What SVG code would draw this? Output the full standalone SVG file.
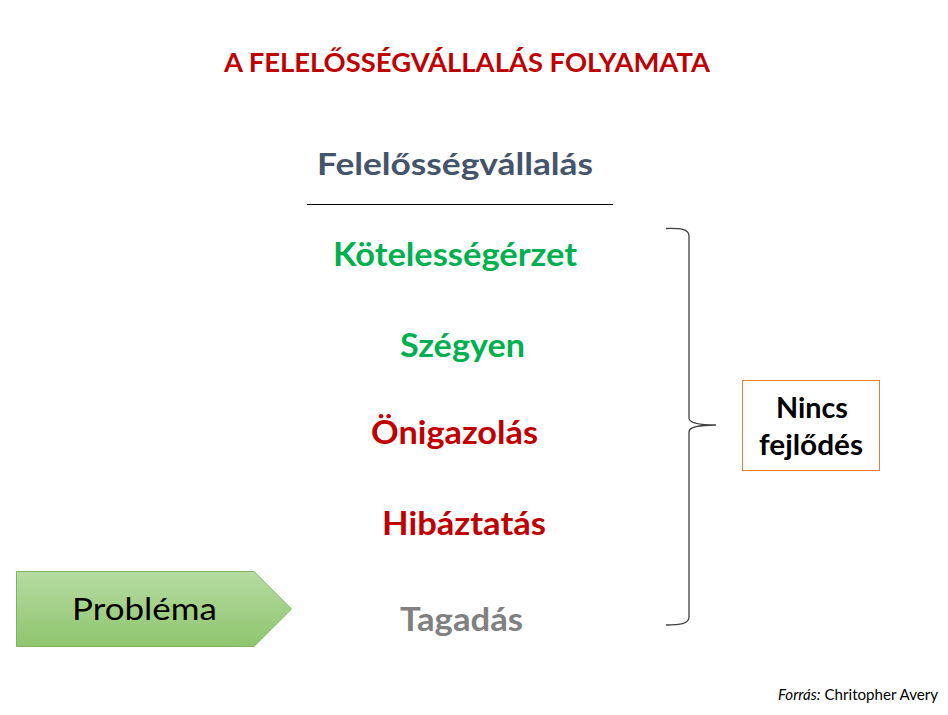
<svg xmlns="http://www.w3.org/2000/svg" width="948" height="715" viewBox="0 0 948 715">
<defs>
<linearGradient id="gGreen" x1="0" y1="0" x2="0" y2="1">
<stop offset="0" stop-color="#b6dba2"/>
<stop offset="1" stop-color="#8ec56d"/>
</linearGradient>
<style>
.b{font-family:Lato,"Open Sans","Liberation Sans",sans-serif;font-weight:bold;text-anchor:middle}
.r{font-family:Lato,"Open Sans","Liberation Sans",sans-serif;text-anchor:middle}
.green{fill:#00b050}
.red{fill:#c00000}
</style>
</defs>
<rect width="948" height="715" fill="#ffffff"/>
<text id="title" class="b" x="467" y="72" font-size="26" fill="#c00000" textLength="486" lengthAdjust="spacingAndGlyphs">A FELELŐSSÉGVÁLLALÁS FOLYAMATA</text>
<g id="felelossegvallalas">
<text class="b" x="455" y="175" font-size="30" fill="#44546a" textLength="276" lengthAdjust="spacingAndGlyphs">Felelősségvállalás</text>
<line x1="307" y1="204.5" x2="613" y2="204.5" stroke="#000000" stroke-width="1"/>
</g>
<g id="kotelessegerzet"><text class="b green" x="455" y="266" font-size="32" textLength="244" lengthAdjust="spacingAndGlyphs">Kötelességérzet</text></g>
<g id="szegyen"><text class="b green" x="462.5" y="357" font-size="32" textLength="125" lengthAdjust="spacingAndGlyphs">Szégyen</text></g>
<g id="onigazolas"><text class="b red" x="454.5" y="444" font-size="32" textLength="167" lengthAdjust="spacingAndGlyphs">Önigazolás</text></g>
<g id="hibaztatas"><text class="b red" x="464" y="535" font-size="32" textLength="164" lengthAdjust="spacingAndGlyphs">Hibáztatás</text></g>
<g id="tagadas"><text class="b" x="461.5" y="631" font-size="32" fill="#808080" textLength="123" lengthAdjust="spacingAndGlyphs">Tagadás</text></g>
<g id="problema">
<path d="M16.5,571.5 H254 L291.5,609 L254,646.5 H16.5 Z" fill="url(#gGreen)" stroke="#7fb35e" stroke-width="1"/>
<text class="r" x="144.5" y="620" font-size="31" fill="#000000" textLength="145" lengthAdjust="spacingAndGlyphs">Probléma</text>
</g>
<g id="connectors">
<path d="M666,228.5 C680,228 689,229 689,236 V418 C689,423 700,425 716,425 C700,425 689,427 689,432 V617 C689,624 680,625 666,625" fill="none" stroke="#3f3f3f" stroke-width="1.3"/>
</g>
<g id="nincs">
<rect x="742.5" y="380.5" width="137" height="90" fill="#ffffff" stroke="#ed7d31" stroke-width="1"/>
<text class="b" x="812" y="418" font-size="28" fill="#000000" textLength="72" lengthAdjust="spacingAndGlyphs">Nincs</text>
<text class="b" x="811" y="455" font-size="28" fill="#000000" textLength="104" lengthAdjust="spacingAndGlyphs">fejlődés</text>
</g>
<text id="source" x="938" y="700" font-family="Lato,'Open Sans','Liberation Sans',sans-serif" font-size="14.5" fill="#000000" text-anchor="end" textLength="160" lengthAdjust="spacingAndGlyphs"><tspan font-style="italic">Forrás:</tspan> Chritopher Avery</text>
</svg>
